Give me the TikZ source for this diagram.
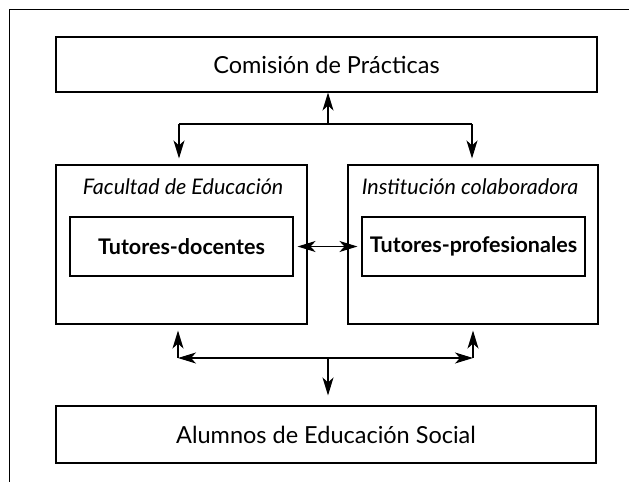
\documentclass[tikz,border=0pt]{standalone}
\usepackage{fontspec}
\setmainfont{Lato}
\usetikzlibrary{arrows.meta,calc}
\begin{document}
\begin{tikzpicture}[x=1pt,y=-1pt,
  >={Stealth[length=18pt,width=11pt,inset=5pt]},
  box/.style={draw,line width=1.1pt,inner sep=0pt,anchor=center},
  line/.style={line width=1.1pt},
  conn/.style={line width=1.1pt,->},
  bigtext/.style={font=\fontsize{23.5}{26}\selectfont},
  boldtext/.style={font=\fontsize{21.5}{25}\selectfont\bfseries},
  captext/.style={font=\fontsize{21.5}{24}\selectfont\itshape}]
\useasboundingbox (0,0) rectangle (629,482);
% outer frame (top and left sides)
\coordinate (f1) at (9.5,9.5);
\coordinate (f2) at (629,9.5);
\coordinate (f3) at (9.5,482);
\draw[line] (f2) -- (f1) -- (f3);
% boxes
\node[box,minimum width=541pt,minimum height=55pt,bigtext] (com) at (326.5,64.5) {Comisión de Prácticas};
\node[box,minimum width=251pt,minimum height=159pt] (fac) at (181.5,244.5) {};
\node[box,minimum width=250pt,minimum height=159pt] (ins) at (473,244.5) {};
\node[captext] (facl) at (183,187) {Facultad de Educación};
\node[captext] (insl) at (470,187) {Institución colaboradora};
\node[box,minimum width=223pt,minimum height=59pt,boldtext] (tdoc) at (181.5,246.5) {Tutores-docentes};
\node[box,minimum width=223pt,minimum height=59pt,boldtext] (tpro) at (473.5,246.5) {Tutores-profesionales};
\node[box,minimum width=540pt,minimum height=57pt,bigtext] (alu) at (326,434.5) {Alumnos de Educación Social};
% top connectors
\coordinate (tj) at (328,124);
\coordinate (tl) at (179,124);
\coordinate (tr) at (472,124);
\draw[conn] (tj) -- (tj |- com.south);
\draw[line] (tl) -- (tr);
\draw[conn,shorten >=6pt] (tl) -- (tl |- fac.north);
\draw[conn,shorten >=6pt] (tr) -- (tr |- ins.north);
% middle connector
\draw[line,<->,shorten <=4pt,shorten >=4pt] (tdoc.east) -- (tpro.west);
% bottom connectors
\coordinate (bl) at (178,358);
\coordinate (br) at (473,358);
\coordinate (bj) at (328,358);
\draw[line,<->] (bl) -- (br);
\draw[conn,shorten >=6pt] (bl) -- (bl |- fac.south);
\draw[conn,shorten >=6pt] (br) -- (br |- ins.south);
\draw[conn,shorten >=10pt] (bj) -- (bj |- alu.north);
\end{tikzpicture}
\end{document}
